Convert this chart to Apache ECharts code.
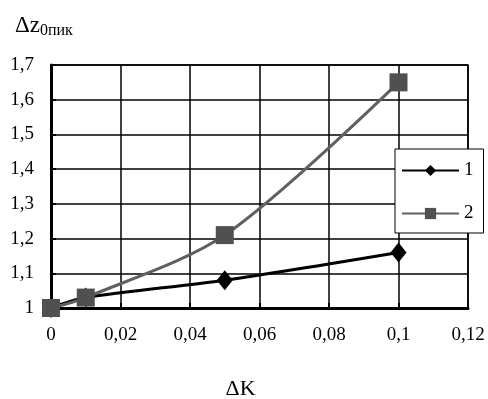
<!DOCTYPE html>
<html>
<head>
<meta charset="utf-8">
<script src="https://cdn.jsdelivr.net/npm/echarts@6/dist/echarts.min.js"></script>
<style>
  html, body { margin: 0; padding: 0; background: #fff; }
  #chart { width: 488px; height: 399px; }
</style>
</head>
<body>
<div id="chart"></div>
<script>
// data
var dK = [0, 0.01, 0.05, 0.1];
var series1 = [1, 1.03, 1.08, 1.16];
var series2 = [1, 1.03, 1.21, 1.65];
var seriesNames = ["1", "2"];

function pairs(xs, ys) {
  return xs.map(function (x, i) { return [x, ys[i]]; });
}
function comma(v, digits) {
  return String(+v.toFixed(digits)).replace(".", ",");
}

var serif = "Liberation Serif";
var chart = echarts.init(document.getElementById("chart"));

var option = {
  backgroundColor: "#fff",
  animation: false,
  textStyle: { fontFamily: serif },
  title: {
    text: "{a|Δz}{b|0пик}",
    left: 10,
    top: 8,
    textStyle: {
      fontWeight: "normal",
      rich: {
        a: { fontFamily: serif, fontSize: 23, fontWeight: "normal", color: "#000" },
        b: { fontFamily: serif, fontSize: 16, fontWeight: "normal", color: "#000", padding: [10, 0, 0, 0] }
      }
    }
  },
  grid: {
    left: 51, top: 65, right: 20, bottom: 91,
    outerBoundsMode: "none", containLabel: false,
    show: true, borderColor: "#000", borderWidth: 1.5
  },
  legend: {
    orient: "vertical",
    left: 395,
    top: 149,
    data: seriesNames,
    backgroundColor: "#fff",
    borderColor: "#000",
    borderWidth: 1,
    borderRadius: 0,
    padding: [12, 10, 10, 6],
    itemWidth: 57,
    itemHeight: 14,
    itemGap: 24,
    textStyle: { fontFamily: serif, fontSize: 19, color: "#000" }
  },
  xAxis: {
    type: "value",
    min: 0,
    max: 0.12,
    interval: 0.02,
    name: "ΔK",
    nameLocation: "middle",
    nameGap: 70,
    nameTextStyle: { fontFamily: serif, fontSize: 22, color: "#000", padding: [0, 38, 0, 0] },
    axisLine: { lineStyle: { color: "#000", width: 3 } },
    axisTick: { inside: true, length: 5, lineStyle: { color: "#000", width: 2 } },
    axisLabel: { color: "#000", fontSize: 19, margin: 18, fontFamily: serif,
      formatter: function (v) { return comma(v, 2); } },
    splitLine: { show: true, lineStyle: { color: "#000", width: 1.5 } }
  },
  yAxis: {
    type: "value",
    min: 1,
    max: 1.7,
    interval: 0.1,
    axisLine: { show: true, lineStyle: { color: "#000", width: 3 } },
    axisTick: { show: true, inside: true, length: 5, lineStyle: { color: "#000", width: 2 } },
    axisLabel: { color: "#000", fontSize: 19, margin: 17, fontFamily: serif,
      formatter: function (v) { return comma(v, 1); } },
    splitLine: { show: true, lineStyle: { color: "#000", width: 1.5 } }
  },
  series: [
    {
      name: seriesNames[0],
      type: "line",
      smooth: 0.3,
      data: pairs(dK, series1),
      symbol: "diamond",
      symbolSize: [16, 20],
      lineStyle: { color: "#000", width: 3 },
      itemStyle: { color: "#000" }
    },
    {
      name: seriesNames[1],
      type: "line",
      smooth: 0.3,
      data: pairs(dK, series2),
      symbol: "rect",
      symbolSize: 18,
      lineStyle: { color: "#606060", width: 3 },
      itemStyle: { color: "#505050" }
    }
  ]
};
chart.setOption(option);
</script>
</body>
</html>
